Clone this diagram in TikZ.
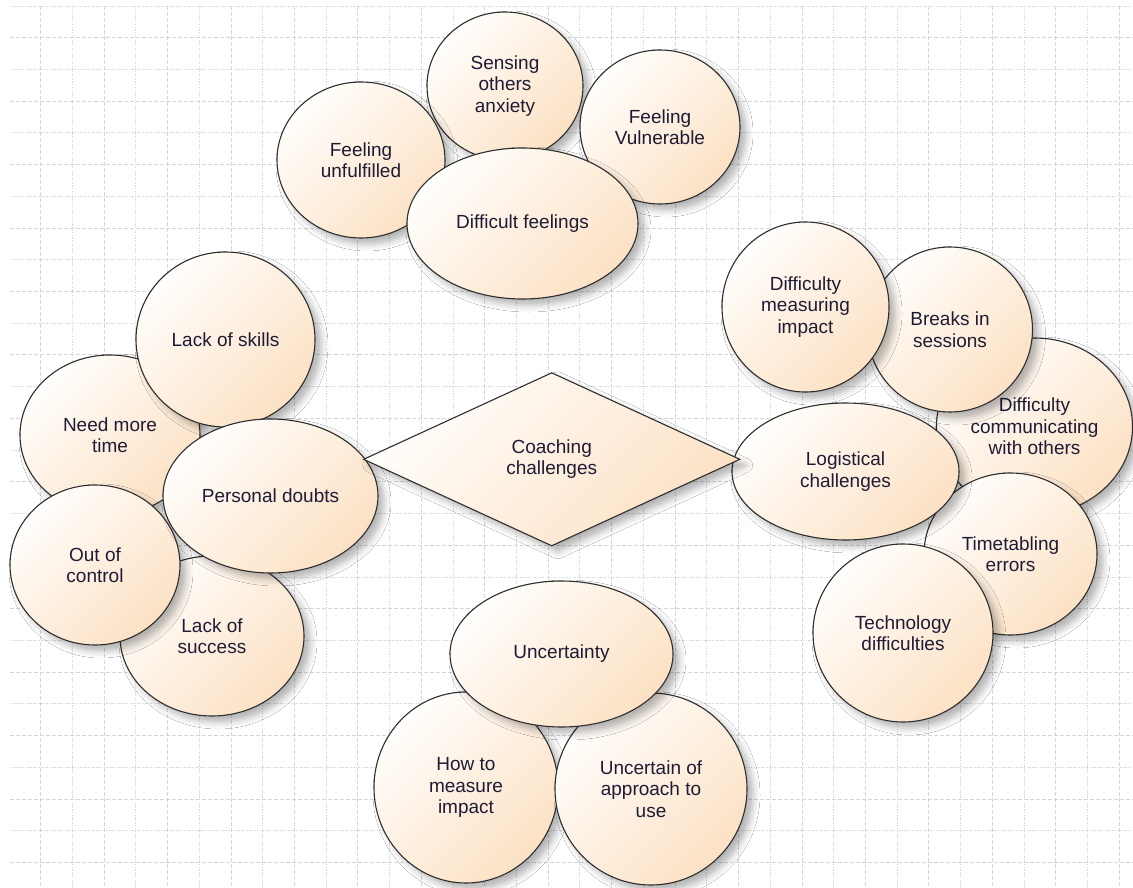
\documentclass[tikz,border=0pt]{standalone}
\usepackage{fontspec}
\setmainfont{Liberation Sans}
\usetikzlibrary{shapes.geometric,shadows.blur}
\definecolor{peachA}{HTML}{FFFEFC}
\definecolor{peachB}{HTML}{FCE1C4}
\definecolor{txt}{HTML}{1E1B35}
\definecolor{gridc}{HTML}{D6D6D6}
\definecolor{edgec}{HTML}{2E2E2E}
\tikzset{
  bubble/.style={draw=edgec, line width=1.1pt, inner sep=0pt, align=center,
    text=txt, font=\fontsize{19}{21.5}\selectfont,
    top color=peachA, bottom color=peachB, shading angle=45,
    blur shadow={shadow xshift=6pt, shadow yshift=-6pt, shadow blur radius=7pt, shadow opacity=30}},
  ell/.style={bubble, ellipse},
  gdash/.style={draw=gridc, line width=0.9pt, dash pattern=on 4pt off 2pt},
  gdot/.style={draw=gridc, line width=0.9pt, dash pattern=on 1.3pt off 1.3pt},
}
\begin{document}
\begin{tikzpicture}[x=1pt,y=-1pt]
\useasboundingbox (0,0) rectangle (1133,888);
\fill[white] (0,0) rectangle (1133,888);
% grid
\foreach \k in {0,...,27}{
  \pgfmathsetmacro{\yy}{6+31.72*\k}
  \ifodd\k
    \draw[gdash] (10,\yy) -- (1133,\yy);
  \else
    \draw[gdot] (10,\yy) -- (1133,\yy);
  \fi
}
\foreach \k in {0,...,34}{
  \pgfmathsetmacro{\xx}{40.7+31.72*\k}
  \ifodd\k
    \draw[gdot] (\xx,6) -- (\xx,888);
  \else
    \draw[gdash] (\xx,6) -- (\xx,888);
  \fi
}
% top cluster
\node[ell, minimum width=156pt, minimum height=148pt] (sensing) at (505,86) {Sensing\\others\\anxiety};
\node[ell, minimum width=168pt, minimum height=156pt] (unful) at (361,160) {Feeling\\unfulfilled};
\node[ell, minimum width=160pt, minimum height=154pt] (vuln) at (660,127) {Feeling\\Vulnerable};
\node[ell, minimum width=231pt, minimum height=151pt] (difffeel) at (522.5,223.5) {Difficult feelings};
% left cluster
\node[ell, minimum width=180pt, minimum height=160pt] (needtime) at (110,435) {Need more\\time};
\node[ell, minimum width=179pt, minimum height=175pt] (skills) at (225.5,339.5) {Lack of skills};
\node[ell, minimum width=184pt, minimum height=160pt] (success) at (212,636) {Lack of\\success};
\node[ell, minimum width=170pt, minimum height=160pt] (outctrl) at (95,565) {Out of\\control};
\node[ell, minimum width=215pt, minimum height=154pt] (doubts) at (270.5,496) {Personal doubts};
% right cluster
\node[ell, minimum width=196pt, minimum height=177pt] (comm) at (1034.5,426.5) {Difficulty\\communicating\\with others};
\node[ell, minimum width=165pt, minimum height=165pt] (breaks) at (950,329.5) {Breaks in\\sessions};
\node[ell, minimum width=167pt, minimum height=170pt] (measure) at (805.5,307) {Difficulty\\measuring\\impact};
\node[ell, minimum width=173pt, minimum height=162pt] (timetab) at (1010.5,554) {Timetabling\\errors};
\node[ell, minimum width=227pt, minimum height=137pt] (logist) at (845.5,471.5) {Logistical\\challenges};
\node[ell, minimum width=180pt, minimum height=178pt] (tech) at (903,633) {Technology\\difficulties};
% bottom cluster
\node[ell, minimum width=184pt, minimum height=191pt] (howto) at (466,787.5) {How to\\measure\\impact};
\node[ell, minimum width=192pt, minimum height=192pt] (approach) at (651,789) {Uncertain of\\approach to\\use};
\node[ell, minimum width=223pt, minimum height=146pt] (uncert) at (561.5,654) {Uncertainty};
% centre
\node[bubble, diamond, minimum width=376.6pt, minimum height=173.4pt] (coach) at (551.7,459.3) {Coaching\\challenges};
\end{tikzpicture}
\end{document}
